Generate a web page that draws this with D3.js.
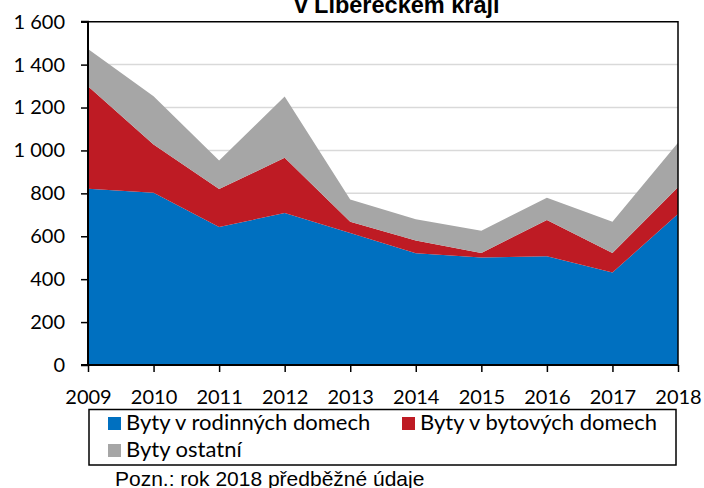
<!DOCTYPE html>
<html>
<head>
<meta charset="utf-8">
<script src="https://cdn.jsdelivr.net/npm/d3@7"></script>
<style>
  body { margin: 0; background: #fff; }
  svg { display: block; }
</style>
</head>
<body>
<div id="chart-area"></div>
<script>
// data
var years = [2009, 2010, 2011, 2012, 2013, 2014, 2015, 2016, 2017, 2018];
var rodinne = [822, 803, 643, 708, 615, 521, 501, 507, 431, 704];
var bytove  = [477, 225, 177, 258, 53, 59, 21, 169, 91, 125];
var ostatni = [174, 224, 133, 285, 103, 99, 104, 104, 146, 207];
var yTicks = [0, 200, 400, 600, 800, 1000, 1200, 1400, 1600];
var seriesNames = ["Byty v rodinných domech", "Byty v bytových domech", "Byty ostatní"];
var colors = ["#0070c0", "#be1b24", "#a6a6a6"];

var width = 704, height = 488;
var plotLeft = 88, plotRight = 678, plotTop = 21.7, plotBottom = 365;

var svg = d3.select("#chart-area")
  .append("svg")
    .attr("width", width)
    .attr("height", height);

var rows = years.map(function(y, i) {
  return { year: y, a: rodinne[i], b: bytove[i], c: ostatni[i] };
});
var stack = d3.stack().keys(["a", "b", "c"]);
var layers = stack(rows);

var x = d3.scaleLinear().domain([2009, 2018]).range([plotLeft, plotRight]);
var y = d3.scaleLinear().domain([0, 1600]).range([plotBottom, plotTop]);

var loc = d3.formatLocale({ decimal: ",", thousands: " ", grouping: [3], currency: ["", ""] });
var fmt = loc.format(",d");

// gridlines
svg.append("g")
  .selectAll("line")
  .data(yTicks.slice(1, -1))
  .enter().append("line")
    .attr("x1", plotLeft).attr("x2", plotRight)
    .attr("y1", function(d) { return y(d); })
    .attr("y2", function(d) { return y(d); })
    .attr("stroke", "#d9d9d9")
    .attr("stroke-width", 1.5);

// areas
var area = d3.area()
  .x(function(d) { return x(d.data.year); })
  .y0(function(d) { return y(d[0]); })
  .y1(function(d) { return y(d[1]); });

svg.append("g")
  .selectAll("path")
  .data(layers)
  .enter().append("path")
    .attr("d", area)
    .attr("fill", function(d, i) { return colors[i]; });

// frame top + right
svg.append("path")
  .attr("d", "M" + plotLeft + "," + plotTop + "H" + plotRight + "V" + plotBottom)
  .attr("fill", "none")
  .attr("stroke", "#000")
  .attr("stroke-width", 1.5);

// y axis
var yAxis = svg.append("g")
  .attr("transform", "translate(" + plotLeft + ",0)")
  .call(d3.axisLeft(y).tickValues(yTicks).tickFormat(fmt).tickSize(7).tickPadding(16));
yAxis.select(".domain").attr("stroke-width", 2).attr("d", "M-7," + plotBottom + "H0V" + plotTop + "H-7");
yAxis.selectAll("line").attr("stroke-width", 1.5);
yAxis.selectAll("text")
  .style("font-family", "Lato, 'Open Sans', sans-serif")
  .style("font-size", "20px")
  .attr("fill", "#000");

// x axis
var xAxis = svg.append("g")
  .attr("transform", "translate(0," + plotBottom + ")")
  .call(d3.axisBottom(x).tickValues(years).tickFormat(d3.format("d")).tickSize(7).tickPadding(18));
xAxis.select(".domain").attr("stroke-width", 2).attr("d", "M" + plotLeft + ",0H" + plotRight);
xAxis.selectAll("line").attr("stroke-width", 1.5);
xAxis.selectAll("text")
  .style("font-family", "Lato, 'Open Sans', sans-serif")
  .style("font-size", "20px")
  .attr("fill", "#000");

// title (cut off at the top like the original)
svg.append("text")
  .attr("x", 397)
  .attr("y", 13)
  .attr("text-anchor", "middle")
  .style("font-family", "'Liberation Sans', Arial, sans-serif")
  .style("font-weight", "bold")
  .style("font-size", "23.5px")
  .text("v Libereckém kraji");

// legend
var legend = svg.append("g");
legend.append("rect")
  .attr("x", 89).attr("y", 409.5)
  .attr("width", 587).attr("height", 55.5)
  .attr("fill", "#fff")
  .attr("stroke", "#000")
  .attr("stroke-width", 1.5);

var legPos = [[108, 417], [402, 417], [108, 444]];
seriesNames.forEach(function(name, i) {
  legend.append("rect")
    .attr("x", legPos[i][0]).attr("y", legPos[i][1])
    .attr("width", 13).attr("height", 13)
    .attr("fill", colors[i]);
  legend.append("text")
    .attr("x", legPos[i][0] + 18)
    .attr("y", legPos[i][1] + 13)
    .style("font-family", "Lato, 'Open Sans', sans-serif")
    .style("font-size", "22px")
    .text(name);
});

// note
svg.append("text")
  .attr("x", 115)
  .attr("y", 486)
  .style("font-family", "'Liberation Sans', Arial, sans-serif")
  .style("font-size", "21px")
  .text("Pozn.: rok 2018 předběžné údaje");
</script>
</body>
</html>
